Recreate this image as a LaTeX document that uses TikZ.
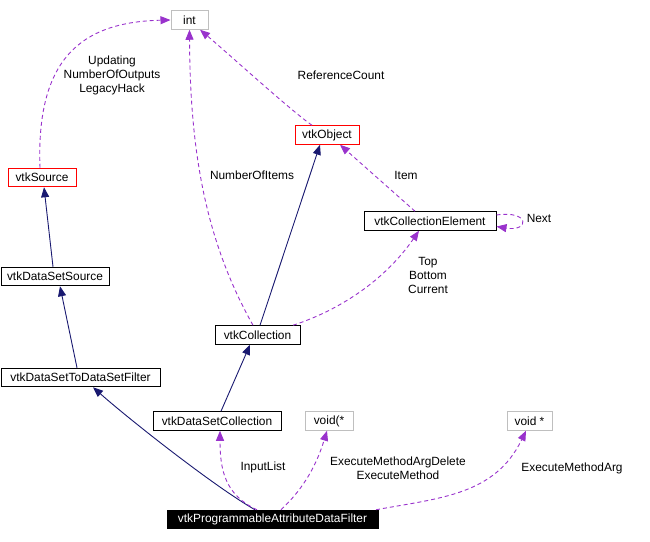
\documentclass[tikz,border=0pt]{standalone}
\usepackage{fontspec}
\setmainfont{Liberation Sans}
\usetikzlibrary{arrows.meta}
\definecolor{navyc}{RGB}{25,25,112}
\definecolor{purp}{RGB}{153,50,204}
\definecolor{grayb}{RGB}{191,191,191}
\begin{document}
\begin{tikzpicture}[x=1pt,y=-1pt,
  font=\fontsize{11.9}{14}\selectfont,
  box/.style={draw=black,line width=1pt,inner sep=0pt,minimum height=18.5pt,anchor=center},
  redbox/.style={box,draw=red},
  graybox/.style={box,draw=grayb},
  mainbox/.style={box,fill=black,text=white},
  inh/.style={draw=navyc,line width=0.9pt,-{Triangle[length=10pt,width=8pt]}},
  use/.style={draw=purp,line width=0.9pt,dash pattern=on 4pt off 3pt,-{Triangle[length=10pt,width=8pt]}},
  lbl/.style={align=center,inner sep=0pt}]
\useasboundingbox (0,0) rectangle (650,541);
% nodes
\node[graybox,minimum width=37pt] (int) at (189.5,20) {int};
\node[redbox,minimum width=68pt] (src) at (42,177.5) {vtkSource};
\node[redbox,minimum width=64pt] (obj) at (327,135) {vtkObject};
\node[box,minimum width=132pt] (ce) at (430,221) {vtkCollectionElement};
\node[box,minimum width=108pt] (dss) at (55,276.5) {vtkDataSetSource};
\node[box,minimum width=159pt] (dsf) at (80.5,377.5) {vtkDataSetToDataSetFilter};
\node[box,minimum width=85pt] (coll) at (257.5,335) {vtkCollection};
\node[box,minimum width=128pt] (dsc) at (217,421) {vtkDataSetCollection};
\node[graybox,minimum width=48pt] (vfp) at (329,421) {void(*};
\node[graybox,minimum width=45pt] (vp) at (529.5,421) {void *};
\node[mainbox,minimum width=211pt] (main) at (272.5,519.5) {vtkProgrammableAttributeDataFilter};
% labels
\node[lbl] (l1) at (112,75) {Updating\\NumberOfOutputs\\LegacyHack};
\node[lbl] (l2) at (341,75) {ReferenceCount};
\node[lbl] (l3) at (252,175) {NumberOfItems};
\node[lbl] (l4) at (406,175) {Item};
\node[lbl] (l5) at (539,218) {Next};
\node[lbl] (l6) at (428,275) {Top\\Bottom\\Current};
\node[lbl] (l7) at (263,467) {InputList};
\node[lbl] (l8) at (398,468) {ExecuteMethodArgDelete\\ExecuteMethod};
\node[lbl] (l9) at (572,468) {ExecuteMethodArg};
% inheritance edges
\draw[inh] ([xshift=-2pt]dss.north) -- ([xshift=2pt]src.south);
\draw[inh] ([xshift=-3.5pt]dsf.north) -- ([xshift=5pt]dss.south);
\draw[inh] ([xshift=-17.5pt]main.north) .. controls (215,487) and (130,420) .. ([xshift=12.5pt]dsf.south);
\draw[inh] ([xshift=4pt]dsc.north) -- ([xshift=-7.5pt]coll.south);
\draw[inh] ([xshift=2.5pt]coll.north) -- ([xshift=-7pt]obj.south);
% usage edges
\draw[use] ([xshift=-2pt]src.north) .. controls (36,60) and (80,22) .. (int.west);
\draw[use] ([xshift=-4.5pt]coll.north) .. controls (205,240) and (190,150) .. (int.south);
\draw[use] ([xshift=35.5pt]coll.north) .. controls (340,310) and (385,280) .. ([xshift=-11pt]ce.south);
\draw[use] ([xshift=-15pt]obj.north) .. controls (290,110) and (230,55) .. ([xshift=10.5pt]int.south);
\draw[use] ([xshift=-15pt]ce.north) -- ([xshift=13pt]obj.south);
\draw[use] ([yshift=6pt]ce.east) .. controls (530,210) and (530,232) .. ([yshift=-5.5pt]ce.east);
\draw[use] ([xshift=-15.5pt]main.north) .. controls (225,495) and (220,470) .. ([xshift=3pt]dsc.south);
\draw[use] ([xshift=8.5pt]main.north) .. controls (300,492) and (315,470) .. ([xshift=-2pt]vfp.south);
\draw[use] ([xshift=103.5pt]main.north) .. controls (440,498) and (495,495) .. ([xshift=-3.5pt]vp.south);
\end{tikzpicture}
\end{document}
